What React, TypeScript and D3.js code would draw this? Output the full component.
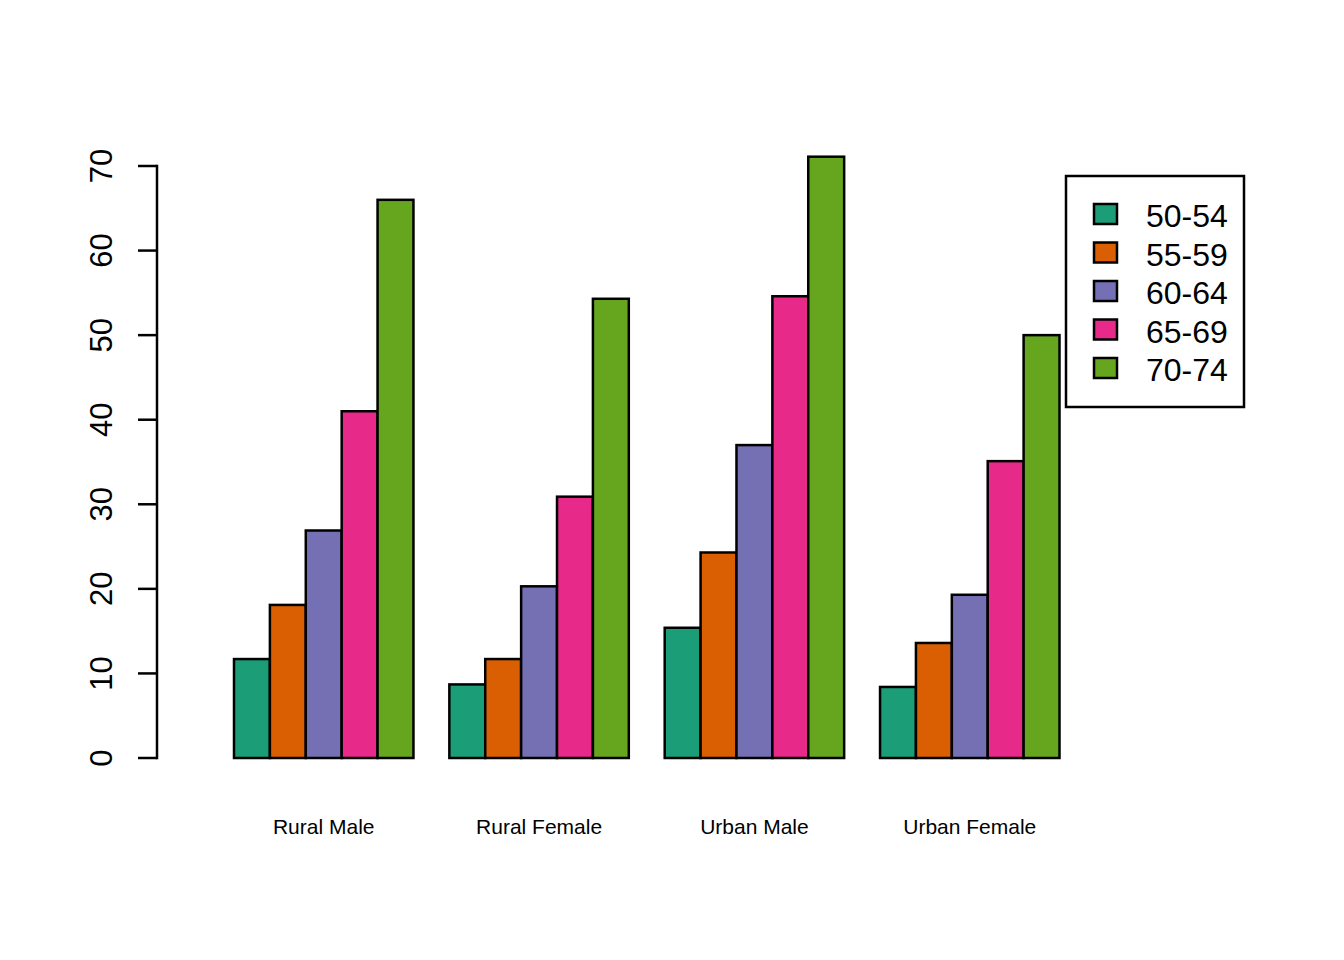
import React from "react";
import * as d3 from "d3";

const categories = ["Rural Male", "Rural Female", "Urban Male", "Urban Female"];
const ageGroups = ["50-54", "55-59", "60-64", "65-69", "70-74"];
// values[category][ageGroup]
const ruralMale = [11.7, 18.1, 26.9, 41.0, 66.0];
const ruralFemale = [8.7, 11.7, 20.3, 30.9, 54.3];
const urbanMale = [15.4, 24.3, 37.0, 54.6, 71.1];
const urbanFemale = [8.4, 13.6, 19.3, 35.1, 50.0];
const seriesValues = [ruralMale, ruralFemale, urbanMale, urbanFemale];
const yTicks = [0, 10, 20, 30, 40, 50, 60, 70];
const colors = ["#1B9E77", "#D95F02", "#7570B3", "#E7298A", "#66A61E"];

const W = 1344;
const H = 960;
const FONT = "'Liberation Sans', Arial, sans-serif";

export default function App() {
  // bar units: group g, bar i occupies [1 + g*6 + i, 2 + g*6 + i]
  const x = d3.scaleLinear().domain([1, 24]).range([234, 1059.5]);
  const y = d3.scaleLinear().domain([0, 70]).range([758, 166]);
  const sw = 2.5;

  return (
    <svg width={W} height={H} style={{ position: "absolute", left: 0, top: 0, background: "#fff" }}>
      <rect x={0} y={0} width={W} height={H} fill="#fff" />
      {/* bars */}
      {seriesValues.map((vals, g) =>
        vals.map((v, i) => {
          const u = 1 + g * 6 + i;
          return (
            <rect
              key={`${g}-${i}`}
              x={x(u)}
              y={y(v)}
              width={x(u + 1) - x(u)}
              height={y(0) - y(v)}
              fill={colors[i]}
              stroke="#000"
              strokeWidth={sw}
            />
          );
        })
      )}
      {/* category labels */}
      {categories.map((c, g) => (
        <text
          key={c}
          x={x(1 + g * 6 + 2.5)}
          y={834}
          textAnchor="middle"
          fontFamily={FONT}
          fontSize={21}
          fill="#000"
        >
          {c}
        </text>
      ))}
      {/* y axis */}
      <line x1={157} x2={157} y1={y(0)} y2={y(70)} stroke="#000" strokeWidth={sw} strokeLinecap="square" />
      {yTicks.map((t) => (
        <g key={t}>
          <line x1={138} x2={157} y1={y(t)} y2={y(t)} stroke="#000" strokeWidth={sw} />
          <text
            transform={`translate(112, ${y(t)}) rotate(-90)`}
            textAnchor="middle"
            fontFamily={FONT}
            fontSize={31}
            fill="#000"
          >
            {t}
          </text>
        </g>
      ))}
      {/* legend */}
      <rect x={1066} y={176} width={178} height={231} fill="#fff" stroke="#000" strokeWidth={sw} />
      {ageGroups.map((a, i) => {
        const cy = 214 + i * 38.5;
        return (
          <g key={a}>
            <rect x={1094} y={cy - 10} width={23} height={20} fill={colors[i]} stroke="#000" strokeWidth={sw} />
            <text x={1146} y={cy + 13} fontFamily={FONT} fontSize={32} fill="#000">
              {a}
            </text>
          </g>
        );
      })}
    </svg>
  );
}
